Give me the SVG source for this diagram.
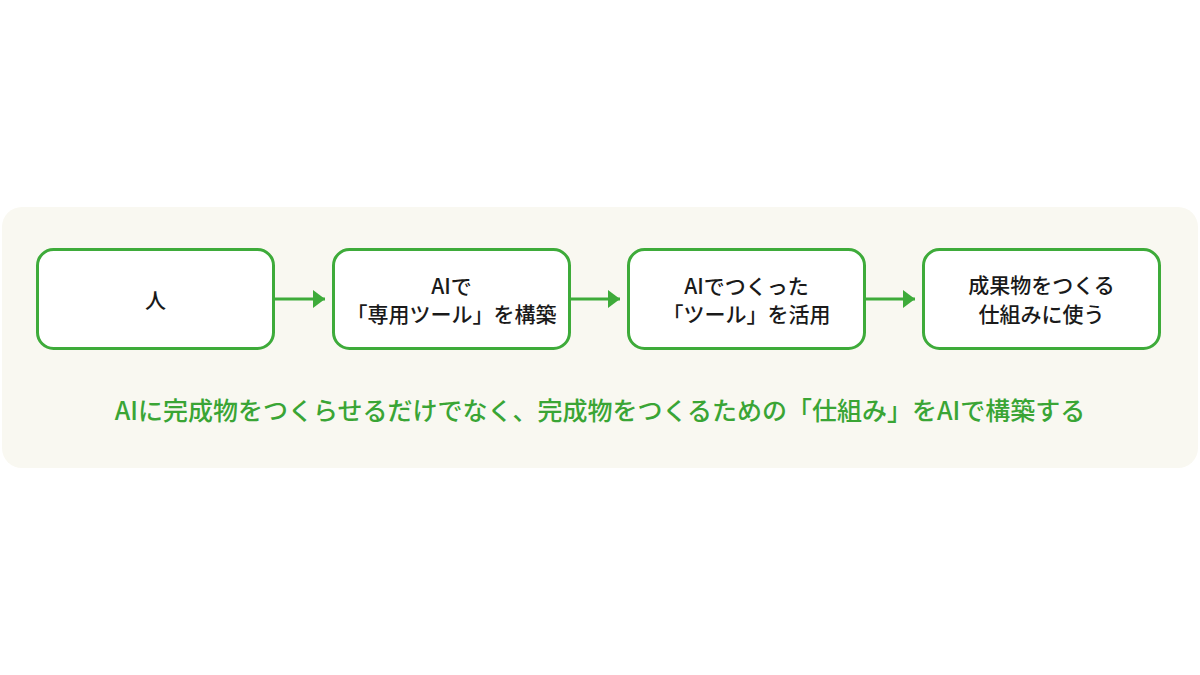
<svg xmlns="http://www.w3.org/2000/svg" width="1200" height="675" viewBox="0 0 1200 675">
<defs>
<style>
.box{fill:#ffffff;stroke:#3eab3a;stroke-width:3}
.t{font-family:"Noto Sans CJK JP","Noto Sans",sans-serif;font-size:21px;font-weight:500;fill:#1a1a1a;text-anchor:middle}
.conn line{stroke:#3eab3a;stroke-width:3}
.cap{font-family:"Noto Sans CJK JP","Noto Sans",sans-serif;font-size:25px;font-weight:500;fill:#3aa535;text-anchor:middle}
</style>
<marker id="ah" viewBox="0 0 12 18" refX="12" refY="9" markerWidth="12" markerHeight="18" markerUnits="userSpaceOnUse" orient="auto">
<path d="M0,0 L12,9 L0,18 Z" fill="#3eab3a"/>
</marker>
</defs>
<rect x="0" y="0" width="1200" height="675" fill="#ffffff"/>
<rect x="2" y="207" width="1196" height="261" rx="20" fill="#f9f8f1"/>
<g id="node1"><rect class="box" x="37.5" y="249.5" width="236" height="99" rx="16"/><text class="t" x="155.5" y="308">人</text></g>
<g id="node2"><rect class="box" x="333.5" y="249.5" width="236" height="99" rx="16"/><text class="t" x="451.5" y="294">AIで</text><text class="t" x="451.5" y="322">「専用ツール」を構築</text></g>
<g id="node3"><rect class="box" x="628.5" y="249.5" width="236" height="99" rx="16"/><text class="t" x="746.5" y="294">AIでつくった</text><text class="t" x="746.5" y="322">「ツール」を活用</text></g>
<g id="node4"><rect class="box" x="923.5" y="249.5" width="236" height="99" rx="16"/><text class="t" x="1041.5" y="293">成果物をつくる</text><text class="t" x="1041.5" y="322">仕組みに使う</text></g>
<g id="connectors" class="conn">
<line x1="275" y1="299" x2="325" y2="299" marker-end="url(#ah)"/>
<line x1="571" y1="299" x2="620" y2="299" marker-end="url(#ah)"/>
<line x1="866" y1="299" x2="915" y2="299" marker-end="url(#ah)"/>
</g>
<text class="cap" x="600" y="420">AIに完成物をつくらせるだけでなく、完成物をつくるための「仕組み」をAIで構築する</text>
</svg>
